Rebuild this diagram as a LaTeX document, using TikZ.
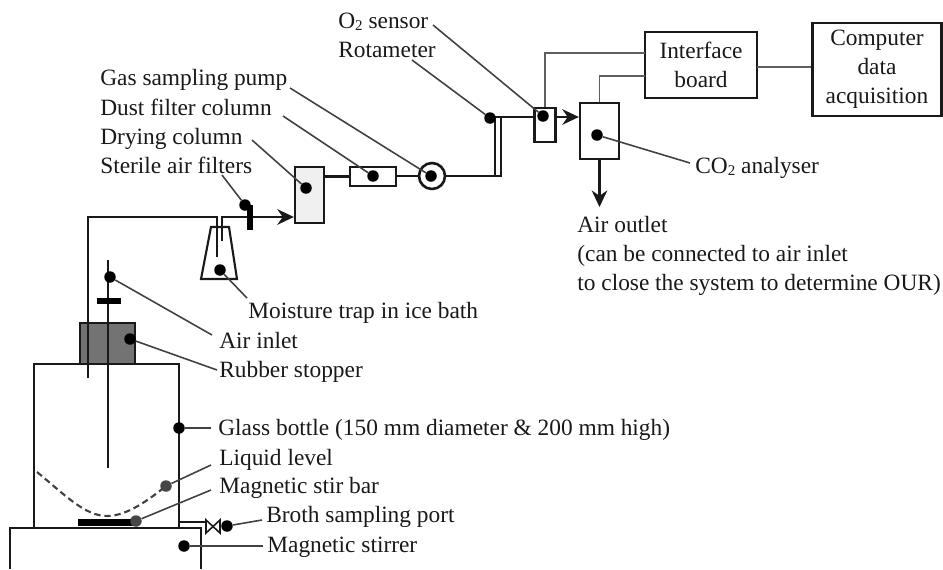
\documentclass[tikz,border=0pt]{standalone}
\usepackage{fontspec}
\setmainfont{Liberation Serif}
\usetikzlibrary{positioning,arrows.meta,calc}
\definecolor{rigInk}{RGB}{25,25,25}
\definecolor{rigLine}{RGB}{65,65,65}
\definecolor{rigSignal}{RGB}{95,95,95}
\definecolor{rigDot}{RGB}{70,70,70}
\definecolor{rigStopper}{RGB}{115,115,115}
\definecolor{rigColumn}{RGB}{240,240,240}
\newcommand{\subtwo}{\raisebox{-0.25ex}{\fontsize{8.5}{10}\selectfont 2}}
\tikzset{
    base/.style={font=\fontsize{13.3}{16.6}\selectfont, text=rigInk, align=center},
    tag/.style={base, anchor=base west, inner sep=0pt},
    unitbox/.style={base, rectangle, draw=rigInk, line width=1.3pt, fill=white, inner sep=0pt},
    pipe/.style={draw=rigInk, line width=1.5pt},
    flow/.style={pipe, -{Stealth[length=3.3mm,width=3.1mm]}},
    signal/.style={draw=rigSignal, line width=1pt},
    leader/.style={draw=rigLine, line width=0.9pt},
    dotmark/.style={circle, fill=black, inner sep=0pt, minimum size=2.3mm},
    greydot/.style={dotmark, fill=rigDot},
    clampbar/.style={draw=black, line width=3.6pt}
}
\begin{document}
\begin{tikzpicture}[x=0.02cm,y=-0.02cm]
  \useasboundingbox (0,0) rectangle (943,569);

  % Stirrer and bottle
  \draw[pipe, line width=1.2pt] (10,569) -- (10,528) -- (201,528) -- (201,569);
  \node[unitbox, fill=none, minimum width=2.9cm, minimum height=3.28cm] (bottle) at (106.5,446) {};
  \node[unitbox, fill=rigStopper, minimum width=1.1cm, minimum height=0.82cm] (stopper) at (107.5,343.5) {};

  % Units along the gas line
  \node[unitbox, fill=rigColumn, minimum width=0.58cm, minimum height=1.12cm] (drying) at (309.5,195) {};
  \node[unitbox, minimum width=0.92cm, minimum height=0.38cm] (dust) at (373,176.5) {};
  \node[unitbox, circle, line width=1.5pt, minimum size=0.52cm] (pump) at (432,176) {};
  \node[unitbox, minimum width=0.42cm, minimum height=0.68cm] (sensor) at (545,125) {};
  \node[unitbox, minimum width=0.78cm, minimum height=1.12cm] (co2box) at (599.5,131) {};
  \node[unitbox, minimum width=2.24cm, minimum height=1.32cm] (iface) at (701,65) {Interface\\board};
  \node[unitbox, minimum width=2.58cm, minimum height=1.86cm] (computer) at (877,69.5) {Computer\\data\\acquisition};

  % Moisture trap
  \draw[pipe, line width=1.2pt, fill=white] (211,227) -- (229,227) -- (237,279) -- (201,279) -- cycle;

  % Gas line
  \coordinate (tubeIn) at (88,378);
  \coordinate (tubeTop) at (88,217);
  \coordinate (trapIn) at (217,257);
  \coordinate (trapOut) at (222,241);
  \coordinate (rotLow) at (495,177);
  \coordinate (rotHigh) at (501,117);
  \coordinate (rotStart) at (490,117);
  \draw[pipe] (tubeIn) -- (tubeTop) -| (trapIn);
  \draw[flow] (trapOut) |- (drying.west |- tubeTop);
  \draw[pipe] (drying.east |- dust.west) -- (dust.west);
  \draw[pipe] (dust.east |- pump.west) -- (pump.west);
  \draw[pipe] (pump.east) -- (pump.east -| rotHigh);
  \draw[pipe] (rotLow) -- (rotLow |- rotHigh);
  \draw[pipe] (rotHigh) -- (rotHigh |- rotLow);
  \draw[pipe] (rotStart) -- (rotStart -| sensor.west);
  \draw[flow] (rotStart -| sensor.east) -- (rotStart -| co2box.west);

  % Outlet and signal lines
  \coordinate (outletEnd) at (599.5,207);
  \coordinate (sigA) at (645,53);
  \coordinate (sigB) at (645,76);
  \coordinate (link) at (757,67);
  \draw[flow] (co2box.south) -- (outletEnd);
  \draw[signal] (sensor.north) |- (sigA);
  \draw[signal] (co2box.north) |- (sigB);
  \draw[signal] (link) -- (link -| computer.west);

  % Air inlet with clamp, and filter bar
  \draw[pipe] (108,260) -- (108,468);
  \draw[clampbar] (97,301) -- (121,301);
  \draw[clampbar] (250,205) -- (250,230);

  % Liquid, stir bar, sampling port
  \draw[pipe, line width=1.2pt, draw=rigLine, dash pattern=on 3.6pt off 2.2pt] (37,472) .. controls (65,495) and (85,516) .. (107,516) .. controls (125,516) and (145,503) .. (166,486);
  \fill[black] (78,519) rectangle (135,526);
  \draw[pipe, line width=0.8pt] (179,522) -- (206,522);
  \draw[pipe, line width=0.9pt, fill=white] (206,520) -- (220,533) -- (220,520) -- (206,533) -- cycle;

  % Leaders with their dots
  \foreach \nm/\dx/\dy/\ex/\ey in {
      filter/245/205/222/175, dry/306/188/252/140, dustf/373/176/283/116,
      gas/431/176/290/88, rot/490/118/412/60, otwo/543/116/433/25,
      ana/597/135/690/163, trap/220/270/247/298, air/110/277/212/335,
      rubber/130/339/217/370, glass/179/428/211/428, port/227/526/262/520,
      stirrer/184/546/263/546} {
    \node[dotmark] (dot\nm) at (\dx,\dy) {};
    \coordinate (end\nm) at (\ex,\ey);
    \draw[leader] (dot\nm) -- (end\nm);
  }
  \foreach \nm/\dx/\dy/\ex/\ey in {level/166/486/211/465, bar/136/521/211/490} {
    \node[greydot] (dot\nm) at (\dx,\dy) {};
    \coordinate (end\nm) at (\ex,\ey);
    \draw[leader] (dot\nm) -- (end\nm);
  }

  % Labels
  \node[tag] (tagOtwo) at (338,28) {O\subtwo{} sensor};
  \node[tag] (tagRot) at (338,57) {Rotameter};
  \node[tag] (tagGas) at (100,85) {Gas sampling pump};
  \node[tag] (tagDust) at (100,115) {Dust filter column};
  \node[tag] (tagDry) at (100,144) {Drying column};
  \node[tag] (tagFilter) at (100,173) {Sterile air filters};
  \node[tag] (tagAna) at (695,173) {CO\subtwo{} analyser};
  \node[tag] (tagOut) at (577,232) {Air outlet};
  \node[tag] (tagCan) at (577,261) {(can be connected to air inlet};
  \node[tag] (tagClose) at (577,290) {to close the system to determine OUR)};
  \node[tag] (tagTrap) at (248,318) {Moisture trap in ice bath};
  \node[tag] (tagAir) at (219,348) {Air inlet};
  \node[tag] (tagRubber) at (219,377) {Rubber stopper};
  \node[tag] (tagGlass) at (218,435) {Glass bottle (150 mm diameter \& 200 mm high)};
  \node[tag] (tagLevel) at (219,465) {Liquid level};
  \node[tag] (tagBar) at (219,493) {Magnetic stir bar};
  \node[tag] (tagPort) at (266,522) {Broth sampling port};
  \node[tag] (tagStirrer) at (267,552) {Magnetic stirrer};
\end{tikzpicture}
\end{document}
